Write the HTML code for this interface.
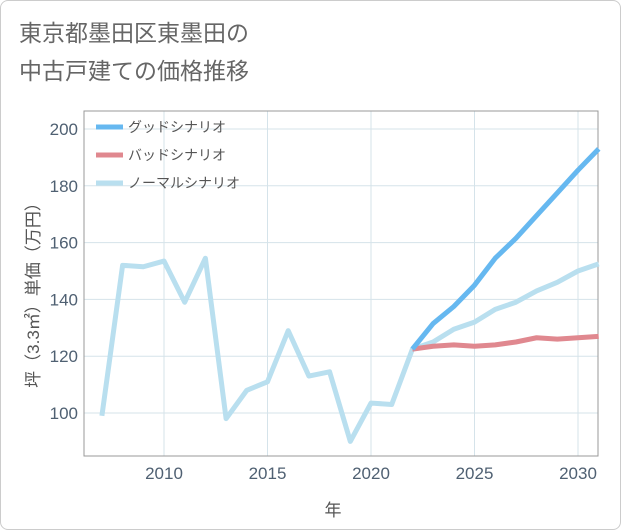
<!DOCTYPE html>
<html><head><meta charset="utf-8">
<style>
body{margin:0;background:#fff;}
#wrap{position:relative;width:619px;height:528px;border:1px solid #ccc;border-radius:8px;overflow:hidden;background:#fff;}
text{font-family:"Liberation Sans","Noto Sans CJK JP",sans-serif;}
</style></head>
<body>
<div id="wrap">
<svg id="chart" width="621" height="530">
<text x="18" y="40" font-size="23" fill="#666">東京都墨田区東墨田の</text>
<text x="18" y="78" font-size="23" fill="#666">中古戸建ての価格推移</text>
<g id="grid"></g>
<g id="series"></g>
<g id="legend"></g>
<text x="332" y="515" font-size="17" fill="#555" text-anchor="middle">年</text>
<text transform="translate(38,290) rotate(-90)" font-size="17" fill="#555" text-anchor="middle">坪（3.3㎡）単価（万円）</text>
</svg>
</div>
<script>
const years=[2007,2008,2009,2010,2011,2012,2013,2014,2015,2016,2017,2018,2019,2020,2021,2022,2023,2024,2025,2026,2027,2028,2029,2030,2031];
const normalVals=[99,152,151.5,153.5,139,154.5,98,108,111,129,113,114.5,90,103.5,103,122.5,125,129.5,132,136.5,139,143,146,150,152.5];
const futureYears=[2022,2023,2024,2025,2026,2027,2028,2029,2030,2031];
const goodVals=[122.5,131.5,137.5,145,154.5,161.5,169.5,177.5,185.5,193];
const badVals=[122.5,123.5,124,123.5,124,125,126.5,126,126.5,127];
const xTicks=[2010,2015,2020,2025,2030];
const yTicks=[100,120,140,160,180,200];
const L=83,R=597,T=110,B=455;
const x=v=>163+(v-2010)*(577-163)/20;
const y=v=>412-(v-100)*(412-128)/100;
const NS="http://www.w3.org/2000/svg";
function mk(tag,attrs,parent){const e=document.createElementNS(NS,tag);for(const k in attrs)e.setAttribute(k,attrs[k]);parent.appendChild(e);return e;}
const grid=document.getElementById('grid'),ser=document.getElementById('series'),leg=document.getElementById('legend');
xTicks.forEach(t=>{
 const l=mk('line',{x1:x(t),x2:x(t),y1:T,y2:B,stroke:'#d5e3ea','stroke-width':1},grid);
 
 
 const tx=mk('text',{x:x(t),y:478,'font-size':17,fill:'#4f6072','text-anchor':'middle'},grid);
 tx.textContent=t;
 
 
});
yTicks.forEach(t=>{
 const l=mk('line',{x1:L,x2:R,y1:y(t),y2:y(t),stroke:'#d5e3ea','stroke-width':1},grid);
 
 
 const tx=mk('text',{x:L-6,y:y(t)+6,'font-size':17,fill:'#4f6072','text-anchor':'end'},grid);
 tx.textContent=t;
 
 
});
const frame=mk('rect',{x:L,y:T,width:R-L,height:B-T,fill:'none',stroke:'#999','stroke-width':1},grid);


function line(xs,vs,color,name){
 const p=mk('polyline',{points:xs.map((v,i)=>x(v)+','+y(vs[i])).join(' '),fill:'none',stroke:color,'stroke-width':5,'stroke-linejoin':'round'},ser);
 
 
}
line(years,normalVals,'#b9dfef','normal-scenario-line');
line(futureYears,badVals,'#e0888f','bad-scenario-line');
line(futureYears,goodVals,'#66b8f0','good-scenario-line');
const legendItems=[['グッドシナリオ','#66b8f0'],['バッドシナリオ','#e0888f'],['ノーマルシナリオ','#b9dfef']];
legendItems.forEach((it,i)=>{
 const yy=126+i*28;
 const l=mk('line',{x1:95,x2:122,y1:yy,y2:yy,stroke:it[1],'stroke-width':5},leg);
 
 
 const tx=mk('text',{x:127,y:yy+5,'font-size':14,fill:'#555'},leg);
 tx.textContent=it[0];
 
 
});
</script>
</body></html>
